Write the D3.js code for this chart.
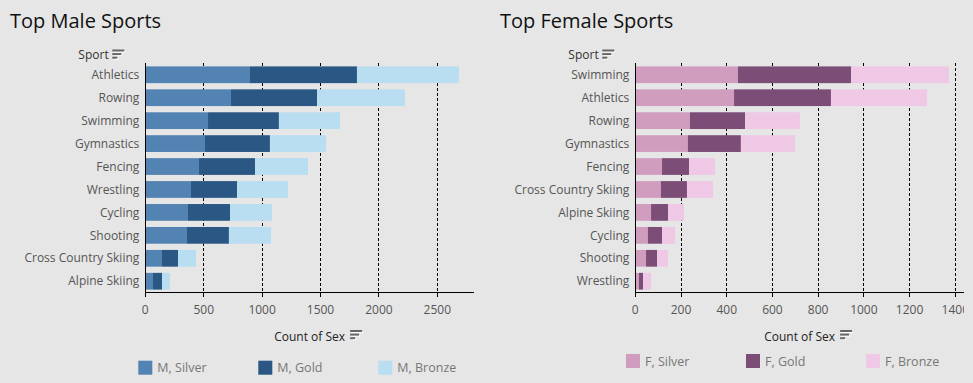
<!DOCTYPE html>
<html><head><meta charset="utf-8">
<script src="https://cdn.jsdelivr.net/npm/d3@7"></script>
<style>
html,body{margin:0;padding:0;background:#e6e6e6;}
svg{display:block;font-family:"Open Sans",sans-serif;}
</style></head>
<body>
<svg id="c" width="973" height="383"></svg>
<script>
// ---- data ----
const maleSports = ["Athletics","Rowing","Swimming","Gymnastics","Fencing","Wrestling","Cycling","Shooting","Cross Country Skiing","Alpine Skiing"];
const maleSilver = [896,733,537,511,459,391,365,357,143,66];
const maleGold   = [916,737,607,556,480,394,360,359,137,77];
const maleBronze = [874,753,523,480,454,436,359,360,154,68];
const maleTicks = [0,500,1000,1500,2000,2500];

const femaleSports = ["Swimming","Athletics","Rowing","Gymnastics","Fencing","Cross Country Skiing","Alpine Skiing","Cycling","Shooting","Wrestling"];
const femaleSilver = [449,432,239,230,117,112,69,55,47,16];
const femaleGold   = [495,424,241,232,118,114,74,62,48,18];
const femaleBronze = [428,420,240,237,114,114,70,57,48,35];
const femaleTicks = [0,200,400,600,800,1000,1200,1400];

const medals = ["Silver","Gold","Bronze"];
const maleColors = ["#5283b3","#2a5783","#b9ddf1"];
const femaleColors = ["#d19dbf","#7c4d77","#eec8e4"];

const svg = d3.select("#c");

function sortIcon(g, x, y){
  const ic = g.append("g").attr("transform", `translate(${x},${y})`);
  [12,9,5].forEach((w,i)=>{
    ic.append("rect").attr("x",1).attr("y",i*3.6+1).attr("width",w).attr("height",2).attr("fill","#fff");
    ic.append("rect").attr("x",0).attr("y",i*3.6).attr("width",w).attr("height",2).attr("fill","#666");
  });
}

function panel(opt){
  const g = svg.append("g");
  const x0 = opt.x0, x1 = opt.x0 + 328.7, yTop = 63.3, yBot = 292.7;
  const x = d3.scaleLinear().domain([0, opt.max]).range([x0, x1]);
  const y = d3.scaleBand().domain(opt.cats).range([yTop, yBot]).paddingInner(0.27).paddingOuter(0.135);

  // title
  g.append("text").attr("x", opt.titleX).attr("y", 27.5).attr("font-size", 20).attr("font-weight", 500)
    .attr("fill", "#111").text(opt.title);

  // Sport header
  g.append("text").attr("x", opt.x0 - 36.6).attr("y", 58.5).attr("text-anchor","end").attr("font-size", 12)
    .attr("fill","#333").text("Sport");
  sortIcon(g, opt.x0 - 33, 49.5);

  // gridlines
  const ticksInner = opt.ticks.filter(t => t > 0);
  g.selectAll(".grid").data(ticksInner).join("line")
    .attr("x1", d=>x(d)).attr("x2", d=>x(d)).attr("y1", yTop).attr("y2", yBot)
    .attr("stroke","#000").attr("stroke-width",1).attr("stroke-dasharray","3,2").attr("shape-rendering","crispEdges");

  // stacked bars
  const rows = opt.cats.map((c,i)=>({cat:c, Silver:opt.silver[i], Gold:opt.gold[i], Bronze:opt.bronze[i]}));
  const stack = d3.stack().keys(medals)(rows);
  stack.forEach((layer, li)=>{
    g.append("g").selectAll("rect").data(layer).join("rect")
      .attr("x", d=>x(d[0])).attr("width", d=>x(d[1])-x(d[0]))
      .attr("y", d=>y(d.data.cat)).attr("height", y.bandwidth())
      .attr("fill", opt.colors[li]);
  });

  // category labels
  g.selectAll(".cat").data(opt.cats).join("text")
    .attr("x", x0 - 6).attr("y", d=>y(d)+y.bandwidth()/2).attr("dy","0.35em")
    .attr("text-anchor","end").attr("font-size",12).attr("fill","#555").text(d=>d);

  // axes lines
  g.append("line").attr("x1",x0).attr("x2",x0).attr("y1",yTop).attr("y2",yBot+4)
    .attr("stroke","#000").attr("shape-rendering","crispEdges");
  g.append("line").attr("x1",x0).attr("x2",x1).attr("y1",yBot).attr("y2",yBot)
    .attr("stroke","#000").attr("shape-rendering","crispEdges");
  g.selectAll(".tk").data(ticksInner).join("line")
    .attr("x1", d=>x(d)).attr("x2", d=>x(d)).attr("y1", yBot).attr("y2", yBot+4)
    .attr("stroke","#000").attr("shape-rendering","crispEdges");

  // tick labels (clipped at axis end)
  const cid = "clip"+opt.id;
  svg.append("clipPath").attr("id",cid).append("rect").attr("x",x0-20).attr("y",yBot).attr("width",x1-x0+20).attr("height",30);
  g.append("g").attr("clip-path",`url(#${cid})`).selectAll("text").data(opt.ticks).join("text")
    .attr("x", d=>x(d)).attr("y", 313.5).attr("text-anchor","middle").attr("font-size",12)
    .attr("fill","#555").text(d=>d);

  // axis title
  const cx = (x0+x1)/2;
  g.append("text").attr("x", cx).attr("y", 340.5).attr("text-anchor","middle").attr("font-size",12)
    .attr("fill","#222").text("Count of Sex");
  sortIcon(g, cx + 40.5, 330);

  // legend
  medals.forEach((m,i)=>{
    const lx = opt.legendX + i*120;
    g.append("rect").attr("x",lx).attr("y",opt.legendY).attr("width",14).attr("height",14).attr("fill",opt.colors[i]);
    g.append("text").attr("x",lx+19).attr("y",opt.legendY+11.5).attr("font-size",12.5).attr("fill","#777")
      .text(opt.prefix + ", " + m);
  });
}

panel({id:"m", title:"Top Male Sports", titleX:10, x0:145.3, max:2814, cats:maleSports,
  silver:maleSilver, gold:maleGold, bronze:maleBronze, ticks:maleTicks, colors:maleColors,
  legendX:138.3, legendY:360.7, prefix:"M"});
panel({id:"f", title:"Top Female Sports", titleX:500, x0:635.3, max:1438, cats:femaleSports,
  silver:femaleSilver, gold:femaleGold, bronze:femaleBronze, ticks:femaleTicks, colors:femaleColors,
  legendX:626, legendY:354, prefix:"F"});
</script>
</body></html>
